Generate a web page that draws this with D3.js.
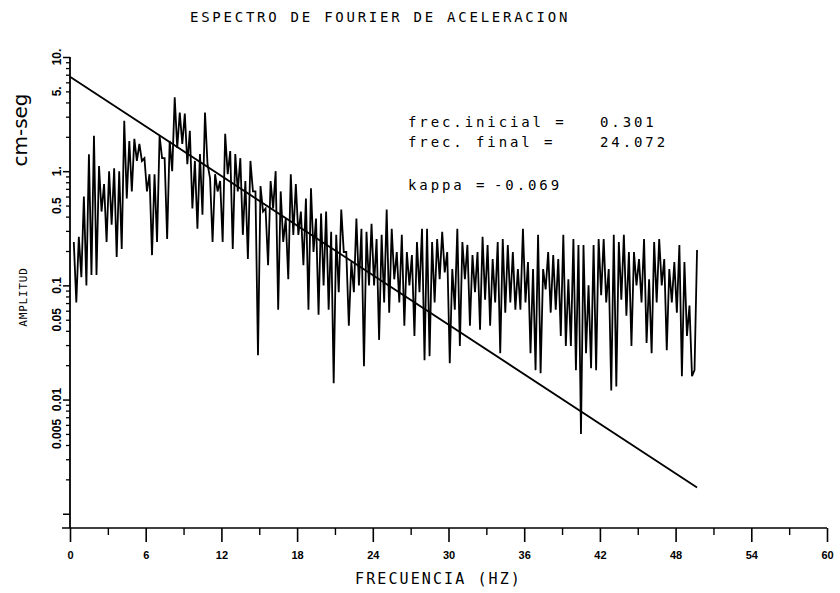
<!DOCTYPE html>
<html>
<head>
<meta charset="utf-8">
<script src="https://cdn.jsdelivr.net/npm/d3@7"></script>
<style>
  html, body { margin: 0; padding: 0; background: #fff; }
  svg { display: block; }
  text { fill: #000; }
</style>
</head>
<body>
<svg id="chart" width="840" height="593"></svg>
<script>
// Fourier amplitude spectrum, sampled every freqStep Hz from freqStart
const freqStart = 0.3;
const freqStep = 0.2;
const amplitude = [
  0.24, 0.071,  0.266, 0.118,  0.60, 0.100,  1.41, 0.123,  2.04, 0.123,
  1.11, 0.443,  0.77, 0.24,    1.00, 0.34,   1.06, 0.177,  1.00, 0.208,
  2.77, 0.577,  1.84, 0.665,   1.92, 1.23,   1.73, 1.23,   1.30, 0.665,
  0.94, 0.184,  0.94, 0.24,    2.04, 1.30,   1.30, 0.255,  1.84, 1.00,
  4.43, 1.60,   3.26, 1.73,    3.19, 1.15,   2.26, 0.471,  1.23, 0.313,
  1.41, 0.416,  3.26, 1.15,    0.87, 0.24,   0.94, 0.665,  0.82, 0.24,
  2.13, 0.94,   1.50, 0.208,   1.41, 0.665,  1.30, 0.277,  0.82, 0.170,
  1.23, 0.665,  0.665, 0.0245, 0.74, 0.443,  0.471, 0.15,  0.82, 0.471,
  1.00, 0.0613, 0.665, 0.24,
  0.384, 0.113, 0.94, 0.277,   0.77, 0.277,  0.443, 0.15,  0.577, 0.0613,
  0.71, 0.196,  0.384, 0.0554, 0.425, 0.100, 0.443, 0.0613, 0.294, 0.0139,
  0.277, 0.087, 0.461, 0.196,  0.196, 0.0443, 0.16, 0.087,  0.384, 0.100,
  0.313, 0.0196, 0.294, 0.100, 0.347, 0.100, 0.255, 0.0333, 0.277, 0.071,
  0.461, 0.0577, 0.313, 0.113, 0.196, 0.071, 0.277, 0.0443, 0.196, 0.100,
  0.184, 0.0361, 0.24, 0.087,  0.313, 0.0221, 0.313, 0.024, 0.24, 0.071,
  0.255, 0.113, 0.294, 0.130,  0.196, 0.0208, 0.139, 0.0613, 0.313, 0.0294,
  0.24, 0.113,  0.226, 0.0443, 0.184, 0.087, 0.196, 0.0408, 0.266, 0.075,
  0.226, 0.0443, 0.170, 0.071,
  0.24, 0.0255, 0.255, 0.0577, 0.226, 0.071, 0.196, 0.0613, 0.139, 0.0613,
  0.313, 0.071, 0.16, 0.0255,  0.139, 0.0181, 0.277, 0.017, 0.139, 0.092,
  0.196, 0.0577, 0.184, 0.0613, 0.170, 0.0361, 0.277, 0.0294, 0.113, 0.0294,
  0.255, 0.0181, 0.226, 0.005, 0.226, 0.0255, 0.100, 0.0188, 0.226, 0.0181,
  0.255, 0.082, 0.255, 0.071,  0.139, 0.012, 0.277, 0.013,  0.24, 0.075,
  0.277, 0.0543, 0.196, 0.0294, 0.196, 0.100, 0.170, 0.071, 0.255, 0.0313,
  0.113, 0.0255, 0.24, 0.071,  0.255, 0.100, 0.170, 0.0271, 0.139, 0.071,
  0.16, 0.0577, 0.226, 0.016,  0.16, 0.0361, 0.0665, 0.016, 0.0181, 0.204
];

// Straight-line fit of the spectral decay (end points)
const fitFreq = [0, 49.7];
const fitAmp = [6.7, 0.0017];

// Axis ticks
const xTicks = [0, 6, 12, 18, 24, 30, 36, 42, 48, 54, 60];
const xTickLabels = ["0", "6", "12", "18", "24", "30", "36", "42", "48", "54", "60"];
const xMinorTicks = [3, 9, 15, 21, 27, 33, 39, 45, 51, 57];
const yTicks = [10, 5, 1, 0.5, 0.1, 0.05, 0.01, 0.005];
const yTickLabels = ["10.", "5.", "1.", "0.5", "0.1", "0.05", "0.01", "0.005"];
const yDecades = [0.001, 0.01, 0.1, 1, 10];

// Texts
const titleText = "ESPECTRO DE FOURIER DE ACELERACION";
const xTitle = "FRECUENCIA (HZ)";
const yTitleUnit = "cm-seg";
const yTitle = "AMPLITUD";
const noteLabels = ["frec.inicial =", "frec. final =", "kappa ="];
const noteValues = ["0.301", "24.072", "-0.069"];

const svg = d3.select("#chart");
const mono = "'DejaVu Sans Mono', 'Liberation Mono', monospace";

const x = d3.scaleLinear().domain([0, 60]).range([70, 827]);
const y = d3.scaleLog().domain([0.00075, 10]).range([528, 57]);

// ---- axes ----
const xAxisG = svg.append("g").attr("transform", `translate(0,${y.range()[0]})`);
xAxisG.call(d3.axisBottom(x).tickValues(xTicks).tickSize(14).tickPadding(9)
  .tickFormat((d, i) => xTickLabels[i]));
xAxisG.select(".domain").remove();
xAxisG.selectAll(".tick line").attr("stroke", "#000").attr("stroke-width", 1.6);
xAxisG.selectAll(".tick text")
  .attr("font-family", "'Liberation Sans', Arial, sans-serif")
  .attr("font-weight", "bold").attr("font-size", 11);

const xMinorG = svg.append("g").attr("transform", `translate(0,${y.range()[0]})`);
xMinorG.call(d3.axisBottom(x).tickValues(xMinorTicks).tickSize(7).tickFormat(""));
xMinorG.select(".domain").remove();
xMinorG.selectAll(".tick line").attr("stroke", "#000").attr("stroke-width", 1.4);

// x axis line
svg.append("line")
  .attr("x1", x(0) - 8).attr("x2", x(60))
  .attr("y1", y.range()[0]).attr("y2", y.range()[0])
  .attr("stroke", "#000").attr("stroke-width", 1.6);

// y axis: log minor ticks and decade ticks
const yMinorVals = [];
yDecades.forEach(d => { for (let m = 2; m <= 9; m++) { const v = d * m; if (v < 10) yMinorVals.push(v); } });
const yMinorG = svg.append("g").attr("transform", `translate(${x(0)},0)`);
yMinorG.call(d3.axisLeft(y).tickValues(yMinorVals).tickSize(4).tickFormat(""));
yMinorG.select(".domain").remove();
yMinorG.selectAll(".tick line").attr("stroke", "#000").attr("stroke-width", 1.3);

const yMajorG = svg.append("g").attr("transform", `translate(${x(0)},0)`);
yMajorG.call(d3.axisLeft(y).tickValues(yDecades).tickSize(7).tickFormat(""));
yMajorG.select(".domain").remove();
yMajorG.selectAll(".tick line").attr("stroke", "#000").attr("stroke-width", 1.5);

svg.append("line")
  .attr("x1", x(0)).attr("x2", x(0))
  .attr("y1", y.range()[0]).attr("y2", y.range()[1])
  .attr("stroke", "#000").attr("stroke-width", 1.8);

// rotated y tick labels
svg.append("g").selectAll("text").data(yTicks).join("text")
  .attr("transform", d => `translate(61,${y(d)}) rotate(-90)`)
  .attr("text-anchor", "middle")
  .attr("font-family", "'Liberation Sans', Arial, sans-serif")
  .attr("font-weight", "bold").attr("font-size", 12)
  .text((d, i) => yTickLabels[i]);

// ---- spectrum ----
const spectrum = amplitude.map((a, i) => ({ f: freqStart + i * freqStep, a }));
const line = d3.line().x(d => x(d.f)).y(d => y(d.a));
svg.append("path").datum(spectrum)
  .attr("d", line)
  .attr("fill", "none").attr("stroke", "#000")
  .attr("stroke-width", 1.8).attr("stroke-linejoin", "miter");

// ---- decay fit ----
const fit = fitFreq.map((f, i) => ({ f, a: fitAmp[i] }));
svg.append("path").datum(fit)
  .attr("d", line)
  .attr("fill", "none").attr("stroke", "#000").attr("stroke-width", 1.8);

// ---- titles ----
svg.append("text")
  .attr("x", 190).attr("y", 22)
  .attr("font-family", mono).attr("font-size", 14)
  .attr("letter-spacing", 2.75)
  .text(titleText);

svg.append("text")
  .attr("x", 355).attr("y", 584)
  .attr("font-family", mono).attr("font-size", 15)
  .attr("letter-spacing", 2.1)
  .text(xTitle);

svg.append("text")
  .attr("transform", "translate(27,130) rotate(-90)")
  .attr("text-anchor", "middle")
  .attr("font-family", "'DejaVu Sans', sans-serif").attr("font-size", 20)
  .text(yTitleUnit);

svg.append("text")
  .attr("transform", "translate(27,297) rotate(-90)")
  .attr("text-anchor", "middle")
  .attr("font-family", mono).attr("font-size", 11)
  .attr("letter-spacing", 0.8)
  .text(yTitle);

// ---- annotation block ----
const noteY = [127, 147, 190];
const noteValueX = [600, 600, 494];
svg.append("g").selectAll("text").data(noteLabels).join("text")
  .attr("x", 408).attr("y", (d, i) => noteY[i])
  .attr("font-family", mono).attr("font-size", 14)
  .attr("letter-spacing", 2.9)
  .text(d => d);
svg.append("g").selectAll("text").data(noteValues).join("text")
  .attr("x", (d, i) => noteValueX[i]).attr("y", (d, i) => noteY[i])
  .attr("font-family", mono).attr("font-size", 14)
  .attr("letter-spacing", 2.9)
  .text(d => d);
</script>
</body>
</html>
